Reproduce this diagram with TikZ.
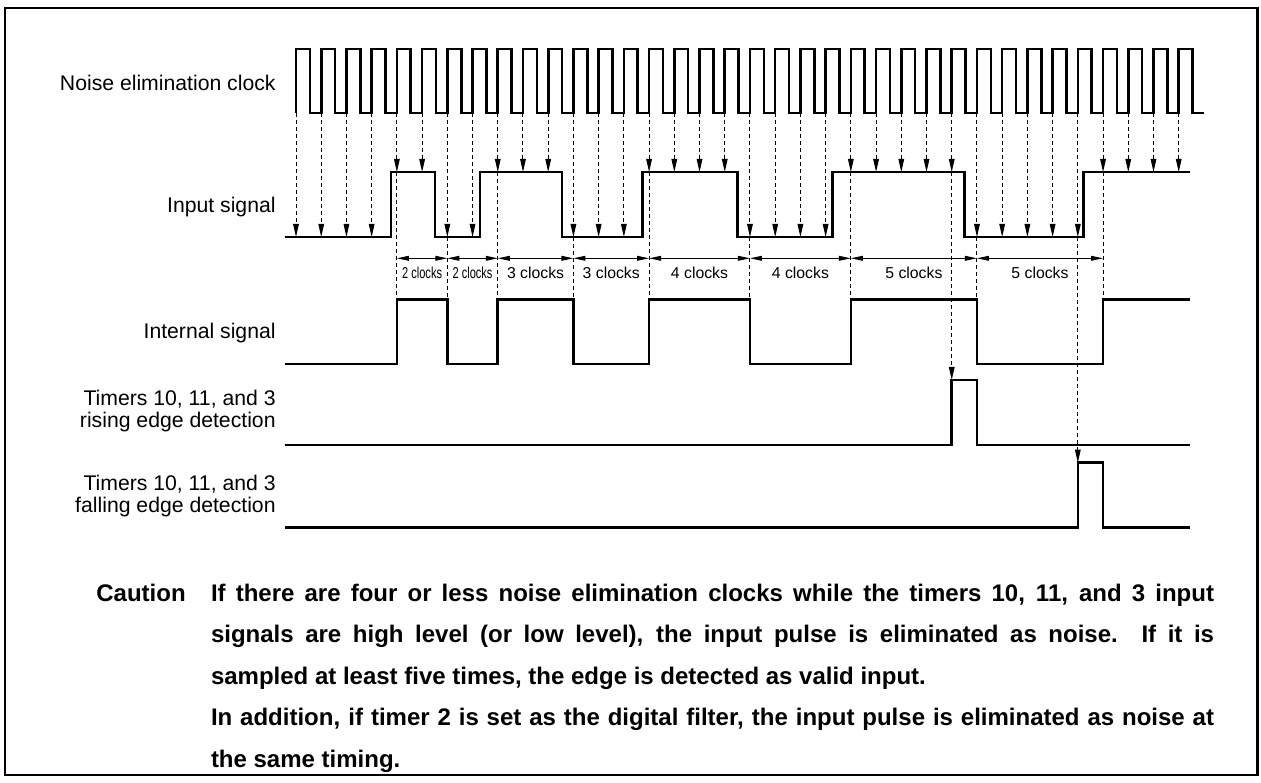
\documentclass[tikz,border=0pt]{standalone}
\usepackage{fontspec}
\setmainfont{Liberation Sans}
\usetikzlibrary{arrows.meta}

\begin{document}
\begin{tikzpicture}[x=0.5pt,y=0.5pt]
\tikzstyle{wave} = [line width=1.3pt] %signaux
\tikzstyle{sample} = [line width=0.5pt,dash pattern=on 2pt off 1.5pt,-{Triangle[length=6.5pt,width=2.8pt]}]
\tikzstyle{guide} = [line width=0.5pt,dash pattern=on 2pt off 1.5pt]
\tikzstyle{dim} = [line width=0.5pt,{Triangle[length=6pt,width=2.4pt]}-{Triangle[length=6pt,width=2.4pt]}]
\tikzstyle{lbl} = [anchor=east,align=right,inner sep=0pt,font=\fontsize{10.6}{10.85}\selectfont]
\tikzstyle{cnt} = [inner sep=0pt,font=\fontsize{7.9}{9}\selectfont]
\tikzstyle{note} = [anchor=base west,inner sep=0pt,font=\bfseries\fontsize{12}{20.75}\selectfont]

\useasboundingbox (0,0) rectangle (1261,782);

%cadre
\draw[line width=1.2pt] (4.7,7) rectangle (1257.5,774);

%noms des signaux
\node[lbl] (clklbl) at (276,698.7) {Noise elimination clock};
\node[lbl] (inlbl) at (276,575.3) {Input signal};
\node[lbl] (intlbl) at (276,448.7) {Internal signal};
\node[lbl] (riselbl) at (276,371.2) {Timers 10, 11, and 3\\rising edge detection};
\node[lbl] (falllbl) at (276,286.2) {Timers 10, 11, and 3\\falling edge detection};

%une unite = une periode d'horloge
\begin{scope}[shift={(296,0)},x=12.61pt]
%horloge
\draw[wave] (0,669) \foreach \k in {0,...,35}{ -- (\k,733) -- (\k+.55,733) -- (\k+.55,669) -- (\k+1,669)};

%signal d'entree
\draw[wave] (-.44,545) -| (3.77,610) -| (5.51,545) -| (7.3,610) -| (10.54,545) -| (13.75,610)
  -| (17.5,545) -| (21.27,610) -| (26.5,545) -| (31.22,610) -- (35.45,610);

%signal interne
\draw[wave] (-.44,418) -| (4,482.7) -| (6,418) -| (8,482.7) -| (11,418) -| (14,482.7)
  -| (18,418) -| (22,482.7) -| (27,418) -| (32,482.7) -- (35.45,482.7);

%detection des fronts
\draw[wave] (-.44,337) -| (26,402) -| (27,337) -- (35.45,337);
\draw[wave] (-.44,254.7) -| (31,319.3) -| (32,254.7) -- (35.45,254.7);

%echantillonnage
\foreach \k in {0,1,2,3,6,7,11,12,13,18,19,20,21,27,28,29,30,31}
  \draw[sample] (\k,669) -- (\k,545);
\foreach \k in {4,5,8,9,10,14,15,16,17,22,23,24,25,26,32,33,34,35}
  \draw[sample] (\k,669) -- (\k,610);

%reperes vers le signal interne
\foreach \k/\y in {4/610,6/545,8/610,11/545,14/610,18/545,22/610,27/545,32/610}
  \draw[guide] (\k,\y) -- (\k,482.7);
\draw[sample] (26,610) -- (26,402);
\draw[sample] (31,545) -- (31,319.3);

%nombre de periodes
\foreach \a/\b in {4/6,6/8}{
  \draw[dim] (\a,523.7) -- (\b,523.7);
  \node[cnt] (cnt\a) at ({(\a+\b)/2},508.7) {\scalebox{0.7}[1]{2 clocks}};
}
\foreach \a/\b/\n in {8/11/3,11/14/3,14/18/4,18/22/4,22/27/5,27/32/5}{
  \draw[dim] (\a,523.7) -- (\b,523.7);
  \node[cnt] (cnt\a) at ({(\a+\b)/2},508.7) {\n\ clocks};
}
\end{scope}

%remarque
\node[note] (caution) at (96,181) {Caution};
\node[note,text width=501.5pt,align=justify] (remark) at (210.6,181) {If there are four or less noise elimination clocks while the timers 10, 11, and 3 input\linebreak
signals are high level (or low level), the input pulse is eliminated as noise.  If it is\linebreak
sampled at least five times, the edge is detected as valid input.\\
In addition, if timer 2 is set as the digital filter, the input pulse is eliminated as noise at\linebreak
the same timing.};
\end{tikzpicture}
\end{document}
